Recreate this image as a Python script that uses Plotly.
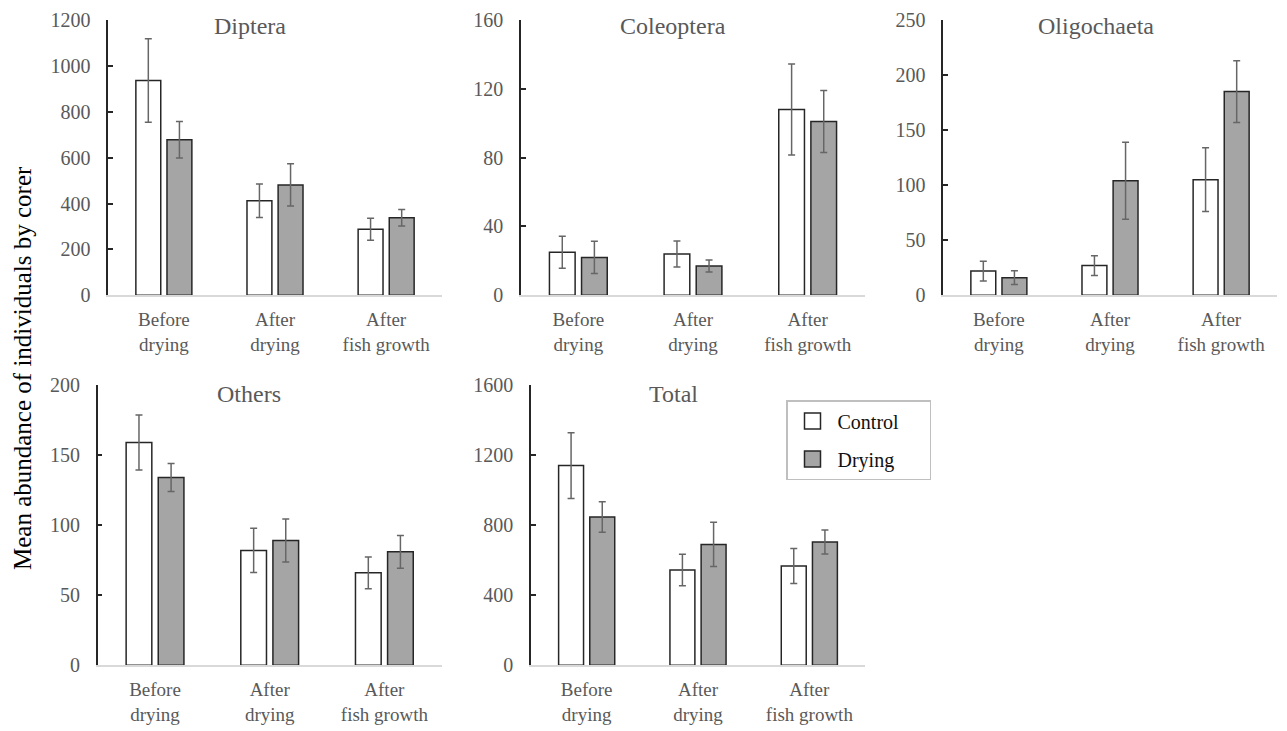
import plotly.graph_objects as go

categories = ["Before<br>drying", "After<br>drying", "After<br>fish growth"]
series_names = ["Control", "Drying"]

diptera_control = [936, 412, 288]
diptera_control_se = [182, 73, 48]
diptera_drying = [678, 481, 338]
diptera_drying_se = [80, 92, 36]

coleoptera_control = [25, 24, 108]
coleoptera_control_se = [9.3, 7.5, 26.5]
coleoptera_drying = [22, 17, 101]
coleoptera_drying_se = [9.4, 3.5, 18]

oligochaeta_control = [22, 27, 105]
oligochaeta_control_se = [9, 9, 29]
oligochaeta_drying = [16, 104, 185]
oligochaeta_drying_se = [6.3, 35, 28]

others_control = [159, 82, 66]
others_control_se = [19.6, 15.7, 11.3]
others_drying = [134, 89, 81]
others_drying_se = [10, 15.3, 11.7]

total_control = [1140, 544, 567]
total_control_se = [188, 90, 100]
total_drying = [847, 690, 704]
total_drying_se = [87, 126, 68]

panel_titles = ["Diptera", "Coleoptera", "Oligochaeta", "Others", "Total"]
y_ranges = [[0, 1200], [0, 160], [0, 250], [0, 200], [0, 1600]]
y_dticks = [200, 40, 50, 50, 400]
y_title = "Mean abundance of individuals by corer"

panels = [
    (diptera_control, diptera_control_se, diptera_drying, diptera_drying_se),
    (coleoptera_control, coleoptera_control_se, coleoptera_drying, coleoptera_drying_se),
    (oligochaeta_control, oligochaeta_control_se, oligochaeta_drying, oligochaeta_drying_se),
    (others_control, others_control_se, others_drying, others_drying_se),
    (total_control, total_control_se, total_drying, total_drying_se),
]

W, H = 1287, 731
OFF = 8  # page body margin offset of the rendered figure


def px(x):
    return (x - OFF) / W


def py(y):
    return 1 - (y - OFF) / H


# plot areas in screen pixels: (x0, x1, ytop, ybottom)
areas = [
    (108.3, 441.7, 20, 295.3),
    (521, 865, 20, 295.3),
    (943.3, 1276.7, 20, 295.3),
    (97.7, 441.7, 385, 665.3),
    (531, 865, 385, 665.3),
]
title_pos = [(250, 26), (672.5, 26), (1096, 26), (249, 394), (673, 394)]

FONT = "Liberation Serif, Times New Roman, serif"
TICK_COLOR = "#595959"
fills = ["#ffffff", "#a5a5a5"]
OUTLINE = "#262626"

fig = go.Figure()
layout = dict(
    template="none",
    width=W, height=H,
    margin=dict(l=0, r=0, t=0, b=0, pad=0),
    paper_bgcolor="white", plot_bgcolor="white",
    barmode="group", bargap=0.44, bargroupgap=0.2,
    font=dict(family=FONT, size=20, color=TICK_COLOR),
    showlegend=True,
    legend=dict(
        x=px(786), y=py(400), xanchor="left", yanchor="top",
        bordercolor="#bfbfbf", borderwidth=1.5, bgcolor="white",
        font=dict(family=FONT, size=20, color="#111111"),
        tracegroupgap=9, itemwidth=40, itemsizing="trace",
    ),
)
annotations = []
for i, (vals, title) in enumerate(zip(panels, panel_titles)):
    n = i + 1
    xa = "x" if n == 1 else f"x{n}"
    ya = "y" if n == 1 else f"y{n}"
    c, cse, d, dse = vals
    for j, (v, se) in enumerate([(c, cse), (d, dse)]):
        fig.add_trace(go.Bar(
            x=categories, y=v, name=series_names[j],
            xaxis=xa, yaxis=ya,
            marker=dict(color=fills[j], line=dict(color=OUTLINE, width=1.5)),
            error_y=dict(type="data", array=se, visible=True, color="#666666",
                         thickness=1.5, width=3.5),
            showlegend=False, offsetgroup=str(j),
        ))
    x0, x1, yt, yb = areas[i]
    layout[f"xaxis{'' if n == 1 else n}"] = dict(
        domain=[px(x0), px(x1)], anchor=ya, automargin=False,
        showline=True, linecolor="#d9d9d9", linewidth=1.5,
        ticks="", showgrid=False, zeroline=False, fixedrange=True,
        ticklabelstandoff=6, ticklabeloverflow="allow",
        tickfont=dict(family=FONT, size=19, color=TICK_COLOR),
    )
    layout[f"yaxis{'' if n == 1 else n}"] = dict(
        domain=[py(yb), py(yt)], anchor=xa, automargin=False,
        range=y_ranges[i], dtick=y_dticks[i],
        showline=True, linecolor=OUTLINE, linewidth=1.5,
        ticks="inside", ticklen=5, tickcolor=OUTLINE, tickwidth=1.5,
        showgrid=False, zeroline=False, ticklabelstandoff=12,
        ticklabeloverflow="allow",
        tickfont=dict(family=FONT, size=20, color=TICK_COLOR),
    )
    tx, ty = title_pos[i]
    annotations.append(dict(
        text=title, x=px(tx), y=py(ty), xref="paper", yref="paper",
        xanchor="center", yanchor="middle", showarrow=False,
        font=dict(family=FONT, size=24, color=TICK_COLOR),
    ))

# legend entries (one per series); trailing no-break spaces widen the box
legend_pad = "\u00a0" * 5
for j, name in enumerate(series_names):
    fig.add_trace(go.Scatter(
        x=[None], y=[None], mode="markers", name=name + legend_pad,
        marker=dict(symbol="square", size=16, color=fills[j],
                    line=dict(color=OUTLINE, width=1.5)),
        showlegend=True, legendgroup=name, hoverinfo="skip",
    ))

annotations.append(dict(
    text=y_title, x=px(22), y=py(368), xref="paper", yref="paper",
    xanchor="center", yanchor="middle", showarrow=False, textangle=-90,
    font=dict(family=FONT, size=25, color="#000000"),
))
layout["annotations"] = annotations
fig.update_layout(**layout)
fig.write_html("out.html")
